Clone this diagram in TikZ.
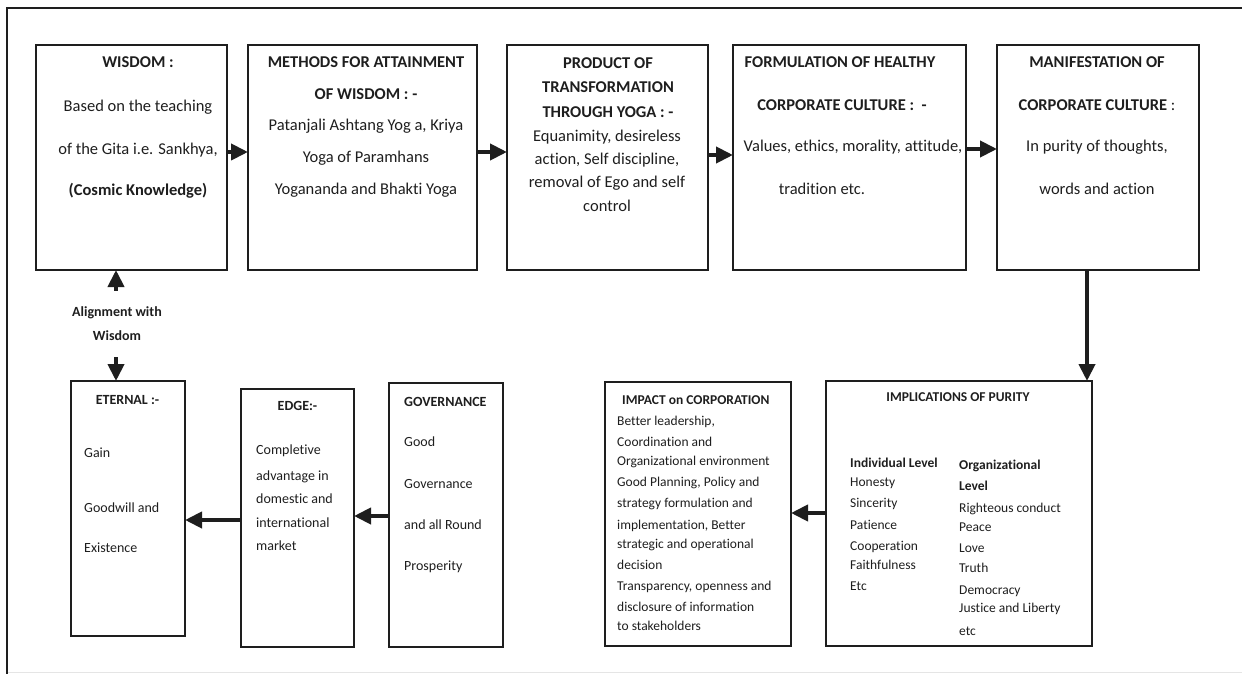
\documentclass[tikz,border=0pt]{standalone}
\usepackage{fontspec}
\setmainfont{Carlito}[Ligatures={NoCommon}, RawFeature={-liga;-clig;-calt;-dlig}]
\usetikzlibrary{arrows.meta}
\definecolor{ink}{HTML}{1E1E1E}
\tikzset{
  frame/.style={line width=2pt, draw=ink},
  box/.style={draw=ink, line width=1.8pt, inner sep=0pt, outer sep=0pt},
  arr/.style={line width=4pt, draw=ink, -{Triangle[length=17pt,width=16pt]}},
  tc/.style={inner sep=0pt, anchor=mid, text=ink, font=\fontsize{16.5}{20}\selectfont},
  tcb/.style={tc, font=\fontsize{16.5}{20}\selectfont\bfseries},
  sl/.style={inner sep=0pt, anchor=mid west, text=ink, font=\fontsize{14}{17}\selectfont},
  slb/.style={sl, font=\fontsize{14}{17}\selectfont\bfseries},
  sm/.style={inner sep=0pt, anchor=mid west, text=ink, font=\fontsize{13.5}{16}\selectfont},
  smb/.style={sm, font=\fontsize{13.5}{16}\selectfont\bfseries},
}
\begin{document}
\begin{tikzpicture}[x=1pt,y=-1pt]
\useasboundingbox (0,0) rectangle (1242,674);
% frame
\coordinate (fr1) at (7,674);
\coordinate (fr2) at (7,8);
\coordinate (fr3) at (1242,8);
\draw[frame] (fr1) -- (fr2) -- (fr3);
\coordinate (fb1) at (8,672);
\coordinate (fb2) at (1242,672);
\draw[black!10, line width=1pt] (fb1) -- (fb2);

% top row boxes
\node[box, minimum width=191pt, minimum height=225pt] (b1) at (131.5,157.5) {};
\node[box, minimum width=229pt, minimum height=225pt] (b2) at (362.5,157.5) {};
\node[box, minimum width=201pt, minimum height=225pt] (b3) at (607.5,157.5) {};
\node[box, minimum width=233pt, minimum height=225pt] (b4) at (849.5,157.5) {};
\node[box, minimum width=202pt, minimum height=225pt] (b5) at (1098,157.5) {};

% bottom row boxes
\node[box, minimum width=266pt, minimum height=265pt] (impl) at (959,513.5) {};
\node[box, minimum width=186pt, minimum height=264pt] (imp) at (698,514) {};
\node[box, minimum width=114pt, minimum height=264pt] (gov) at (446,515) {};
\node[box, minimum width=113pt, minimum height=258pt] (edge) at (297.5,518) {};
\node[box, minimum width=114pt, minimum height=255pt] (et) at (128,508.5) {};

% texts box 1
\node[tcb] (t11) at (138,65) {WISDOM :};
\node[tc] (t12) at (138,109) {Based on the teaching};
\node[tc] (t13) at (138,152) {of the Gita i.e. Sankhya,};
\node[tcb] (t14) at (138,193) {(Cosmic Knowledge)};
% box 2
\node[tcb] (t21) at (366,65) {METHODS FOR ATTAINMENT};
\node[tcb] (t22) at (366,97) {OF WISDOM : -};
\node[tc] (t23) at (366,128) {Patanjali Ashtang Yog a, Kriya};
\node[tc] (t24) at (366,160) {Yoga of Paramhans};
\node[tc] (t25) at (366,192) {Yogananda and Bhakti Yoga};
% box 3
\node[tcb] (t31) at (608,66) {PRODUCT OF};
\node[tcb] (t32) at (608,90) {TRANSFORMATION};
\node[tcb] (t33) at (608,115) {THROUGH YOGA : -};
\node[tc] (t34) at (607,139) {Equanimity, desireless};
\node[tc] (t35) at (607,162) {action, Self discipline,};
\node[tc] (t36) at (607,185) {removal of Ego and self};
\node[tc] (t37) at (607,209) {control};
% box 4
\node[tcb] (t41) at (840,65) {FORMULATION OF HEALTHY};
\node[tcb] (t42) at (842,108) {CORPORATE CULTURE :\ \ -};
\node[tc] (t43) at (853,149) {Values, ethics, morality, attitude,};
\node[tc] (t44) at (822,192) {tradition etc.};
% box 5
\node[tcb] (t51) at (1097,65) {MANIFESTATION OF};
\node[tc] (t52) at (1097,108) {\textbf{CORPORATE CULTURE} :};
\node[tc] (t53) at (1097,149) {In purity of thoughts,};
\node[tc] (t54) at (1097,192) {words and action};

% eternal
\node[slb, anchor=mid] (e1) at (127.5,402) {ETERNAL :-};
\node[sl] (e2) at (84,455) {Gain};
\node[sl] (e3) at (84,510) {Goodwill and};
\node[sl] (e4) at (84,550) {Existence};
% edge
\node[slb, anchor=mid] (d1) at (297.5,408) {EDGE:-};
\node[sl] (d2) at (256,452) {Completive};
\node[sl] (d3) at (256,478) {advantage in};
\node[sl] (d4) at (256,501) {domestic and};
\node[sl] (d5) at (256,525) {international};
\node[sl] (d6) at (256,548) {market};
% governance
\node[slb] (g1) at (404,404) {GOVERNANCE};
\node[sl] (g2) at (404,444) {Good};
\node[sl] (g3) at (404,486) {Governance};
\node[sl] (g4) at (404,527) {and all Round};
\node[sl] (g5) at (404,568) {Prosperity};
% impact
\node[smb] (i0) at (622,402) {IMPACT on CORPORATION};
\node[sm] (i1) at (617,423) {Better leadership,};
\node[sm] (i2) at (617,444) {Coordination\ and};
\node[sm] (i3) at (617,463) {Organizational environment};
\node[sm] (i4) at (617,484) {Good Planning, Policy and};
\node[sm] (i5) at (617,505) {strategy formulation and};
\node[sm] (i6) at (617,527) {implementation, Better};
\node[sm] (i7) at (617,546) {strategic and operational};
\node[sm] (i8) at (617,567) {decision};
\node[sm] (i9) at (617,588) {Transparency, openness and};
\node[sm] (i10) at (617,609) {disclosure of information};
\node[sm] (i11) at (617,628) {to stakeholders};
% implications
\node[smb, anchor=mid] (p0) at (958,399) {IMPLICATIONS OF PURITY};
\node[smb] (p1) at (850,465) {Individual Level};
\node[sm] (p2) at (850,484) {Honesty};
\node[sm] (p3) at (850,505) {Sincerity};
\node[sm] (p4) at (850,527) {Patience};
\node[sm] (p5) at (850,548) {Cooperation};
\node[sm] (p6) at (850,567) {Faithfulness};
\node[sm] (p7) at (850,588) {Etc};
\node[smb] (q1) at (959,467) {Organizational};
\node[smb] (q2) at (959,488) {Level};
\node[sm] (q3) at (959,510) {Righteous conduct};
\node[sm] (q4) at (959,529) {Peace};
\node[sm] (q5) at (959,550) {Love};
\node[sm] (q6) at (959,570) {Truth};
\node[sm] (q7) at (959,592) {Democracy};
\node[sm] (q8) at (959,610) {Justice and Liberty};
\node[sm] (q9) at (959,633) {etc};

% alignment label
\node[align=center, text=ink, font=\fontsize{14}{24}\selectfont\bfseries, inner xsep=0pt, inner ysep=0pt, minimum height=66pt] (al) at (117,324) {Alignment with\\Wisdom};

% arrows
\draw[arr] (b1.east |- 0,152) -- (b2.west |- 0,152);
\draw[arr] (b2.east |- 0,152) -- (b3.west |- 0,152);
\draw[arr] (b3.east |- 0,155) -- (b4.west |- 0,155);
\draw[arr] (b4.east |- 0,149) -- (b5.west |- 0,149);
\draw[arr] (b5.south -| 1087,0) -- (impl.north -| 1087,0);
\draw[arr] (impl.west |- 0,513) -- (imp.east |- 0,513);
\draw[arr] (gov.west |- 0,516) -- (edge.east |- 0,516);
\draw[arr] (edge.west |- 0,520) -- (et.east |- 0,520);
\draw[arr] (al.north -| 116,0) -- (b1.south -| 116,0);
\draw[arr] (al.south -| 116,0) -- (et.north -| 116,0);
\end{tikzpicture}
\end{document}
